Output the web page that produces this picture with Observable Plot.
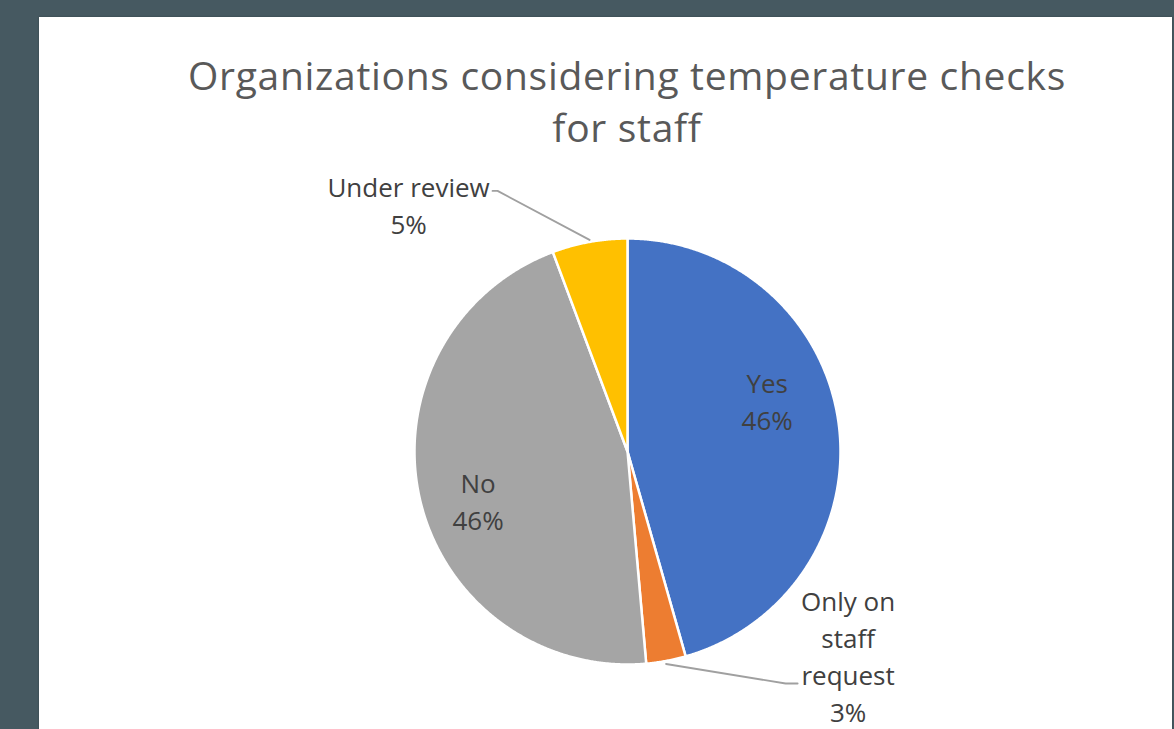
<!DOCTYPE html>
<html><head><meta charset="utf-8">
<script src="https://cdn.jsdelivr.net/npm/d3@7"></script>
<script src="https://cdn.jsdelivr.net/npm/@observablehq/plot@0.6"></script>
<style>
html,body{margin:0;padding:0;width:1174px;height:729px;overflow:hidden;background:#465961;}
#panel{position:absolute;left:39px;top:17px;width:1133px;height:730px;background:#fff;box-shadow:0 0 2px rgba(0,0,0,0.25);}
#title{position:absolute;left:0;top:49px;width:1254px;text-align:center;font-family:"Open Sans",sans-serif;font-size:39px;letter-spacing:0.7px;line-height:52px;color:#595959;}
#chart{position:absolute;left:0;top:160px;}
</style></head><body>
<div id="panel"></div>
<div id="title">Organizations considering temperature checks<br>for staff</div>
<div id="chart"></div>
<script>
// ---- data ----
const categories = ["Yes", "Only on staff request", "No", "Under review"];
const shares = [45.6, 3.0, 45.7, 5.7];
const percentLabels = ["46%", "3%", "46%", "5%"];
const labelNames = ["Yes", "Only on\nstaff\nrequest", "No", "Under review"];
const colors = ["#4472C4", "#ED7D31", "#A5A5A5", "#FFC000"];

// ---- layout ----
const W = 1174, H = 569, R = 213, CX = 627, CY = 291;
// label placement: radial factor + pixel offset (screen, dy down)
const labelLayout = {
  "Yes": {rf: 0.7, dx: -8, dy: -31},
  "No": {rf: 0.7, dx: -4, dy: 15},
  "Under review": {rf: 1.0, dx: -181, dy: -38,
    leader: [[0, -2], [-92, -51], [-97, -51]]},
  "Only on staff request": {rf: 1.0, dx: 182, dy: -6,
    leader: [[0, 3], [119.5, 22.5], [131.5, 22.5]]}
};

const rows = categories.map((c, i) => ({cat: c, share: shares[i], name: labelNames[i], pct: percentLabels[i]}));
const arcs = d3.pie().sort(null).value(d => d.share).startAngle(0).endAngle(2 * Math.PI)(rows);

const polys = arcs.flatMap(a => {
  const n = Math.max(4, Math.ceil((a.endAngle - a.startAngle) / 0.005));
  const pts = [{cat: a.data.cat, x: 0, y: 0}];
  for (let i = 0; i <= n; i++) {
    const t = a.startAngle + (a.endAngle - a.startAngle) * i / n;
    pts.push({cat: a.data.cat, x: Math.sin(t), y: Math.cos(t)});
  }
  pts.push({cat: a.data.cat, x: 0, y: 0});
  return pts;
});

const labels = arcs.map(a => {
  const L = labelLayout[a.data.cat];
  const m = (a.startAngle + a.endAngle) / 2;
  return {
    cat: a.data.cat,
    text: a.data.name + "\n" + a.data.pct,
    x: L.rf * Math.sin(m) + L.dx / R,
    y: L.rf * Math.cos(m) - L.dy / R
  };
});

const leaders = arcs.filter(a => labelLayout[a.data.cat].leader).flatMap(a => {
  const m = (a.startAngle + a.endAngle) / 2;
  const ex = Math.sin(m), ey = Math.cos(m);
  return labelLayout[a.data.cat].leader.map(([dx, dy]) => ({cat: a.data.cat, x: ex + dx / R, y: ey - dy / R}));
});

const chart = Plot.plot({
  width: W, height: H,
  margin: 0,
  style: {background: "transparent", overflow: "visible"},
  x: {domain: [-CX / R, (W - CX) / R], range: [0, W], axis: null},
  y: {domain: [CY / R, -(H - CY) / R], range: [0, H], axis: null},
  color: {domain: categories, range: colors},
  marks: [
    Plot.line(polys, {x: "x", y: "y", z: "cat", fill: "cat", stroke: "white", strokeWidth: 2.5, strokeLinejoin: "round", curve: "linear"}),
    Plot.line(leaders, {x: "x", y: "y", z: "cat", stroke: "#A0A0A0", strokeWidth: 1.9}),
    Plot.text(labels, {x: "x", y: "y", text: "text", fill: "#404040", fontSize: 26, lineHeight: 1.42, fontFamily: "Open Sans", textAnchor: "middle"})
  ]
});
document.getElementById("chart").appendChild(chart);
</script>
</body></html>
